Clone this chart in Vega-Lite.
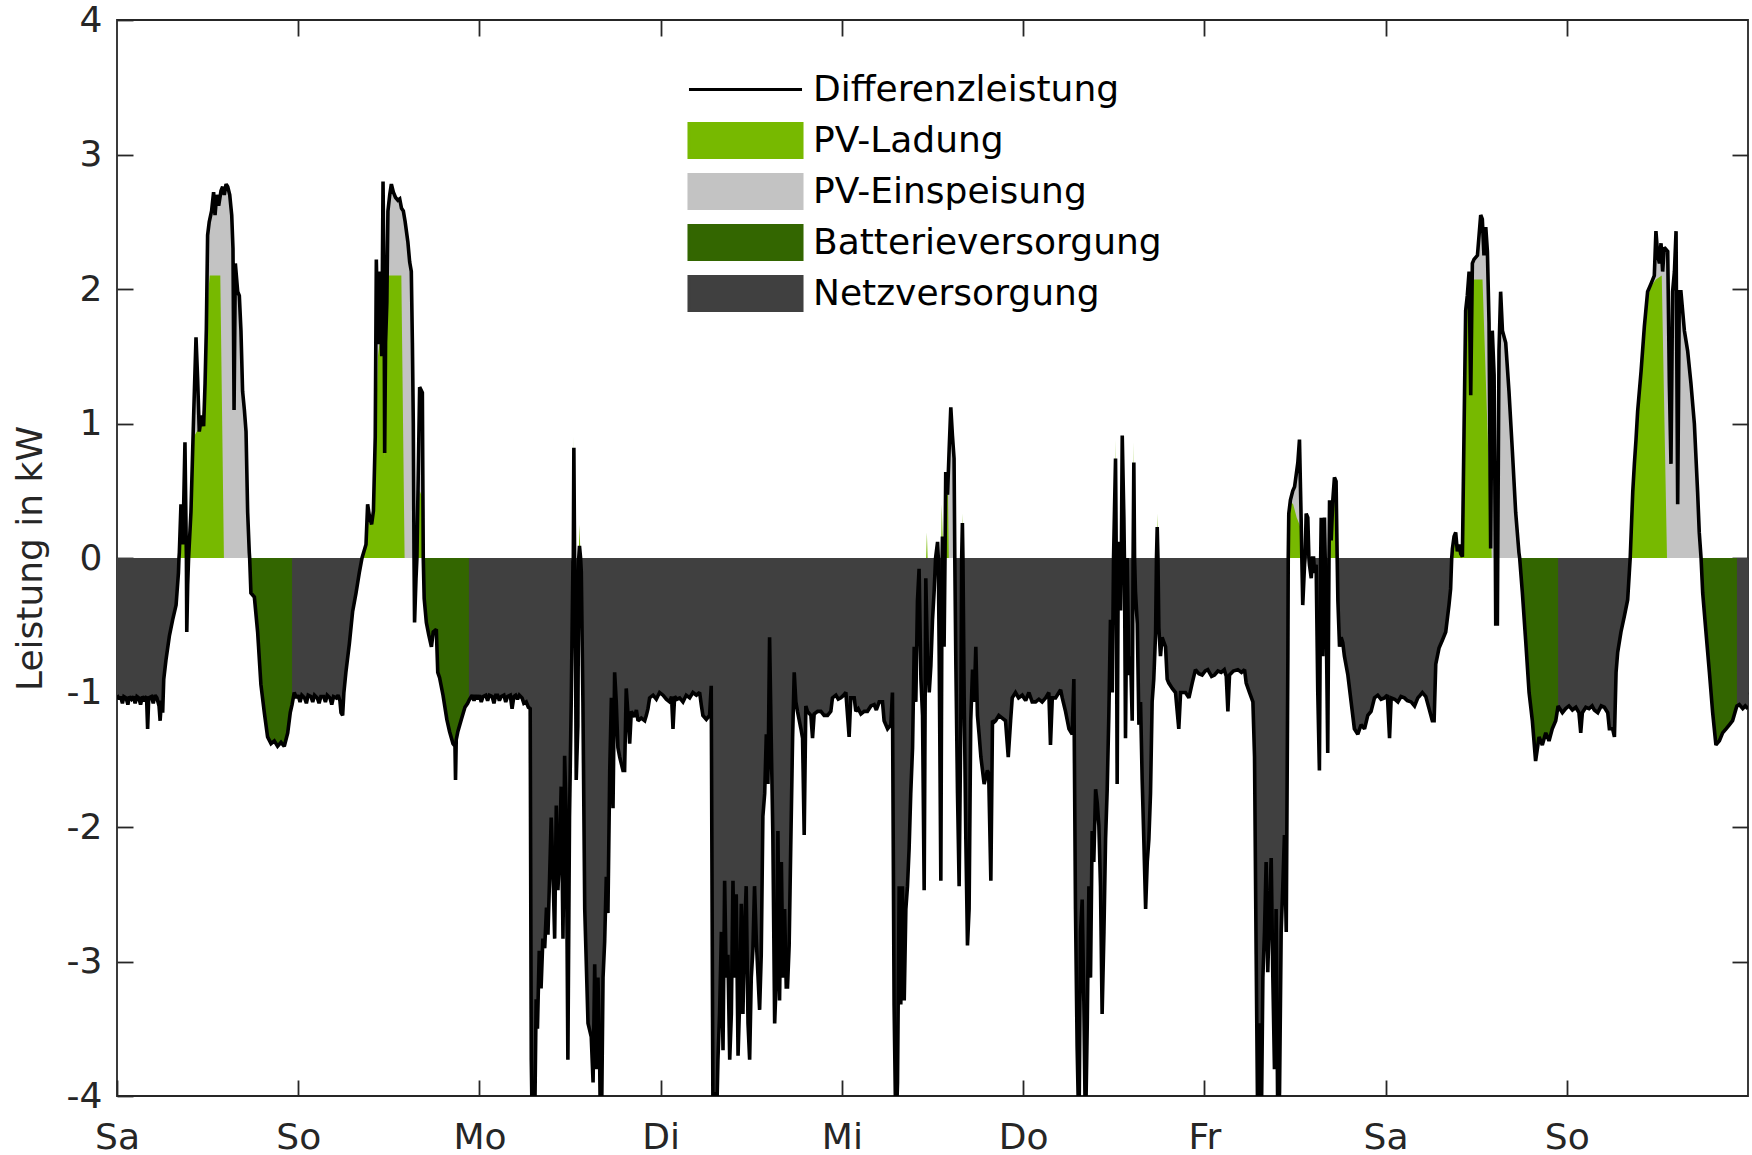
{
"$schema": "https://vega.github.io/schema/vega-lite/v6.json",
"width": 1631, "height": 1076,
"autosize": {"type": "none"},
"padding": {"left": 117, "top": 20, "right": 4, "bottom": 59},
"background": "white",
"config": {"font": "DejaVu Sans", "view": {"stroke": "#262626", "strokeWidth": 1.8}},
"datasets": {
"main": [
{"t":0,"d":-1.02},{"t":0.012,"d":-1.05},{"t":0.02,"d":-1.03},{"t":0.03,"d":-1.08},{"t":0.038,"d":-1.03},{"t":0.05,"d":-1.04},{"t":0.06,"d":-1.09},{"t":0.068,"d":-1.03},{"t":0.08,"d":-1.05},{"t":0.09,"d":-1.03},{"t":0.1,"d":-1.08},{"t":0.11,"d":-1.03},{"t":0.12,"d":-1.04},{"t":0.13,"d":-1.09},{"t":0.14,"d":-1.03},{"t":0.15,"d":-1.05},{"t":0.163,"d":-1.03},{"t":0.169,"d":-1.27},{"t":0.175,"d":-1.04},{"t":0.19,"d":-1.03},{"t":0.2,"d":-1.08},{"t":0.21,"d":-1.02},{"t":0.22,"d":-1.04},{"t":0.232,"d":-1.1},{"t":0.238,"d":-1.21},{"t":0.245,"d":-1.06},{"t":0.252,"d":-1.15},{"t":0.258,"d":-0.9},{"t":0.27,"d":-0.76},{"t":0.289,"d":-0.58},{"t":0.307,"d":-0.46},{"t":0.326,"d":-0.35},{"t":0.339,"d":-0.11},{"t":0.342,"d":0},{"t":0.344,"d":0.04},{"t":0.353,"d":0.4},{"t":0.362,"d":0.1},{"t":0.368,"d":0.4},{"t":0.375,"d":0.86},{"t":0.381,"d":0.2},{"t":0.383,"d":0},{"t":0.385,"d":-0.55},{"t":0.39,"d":-0.2},{"t":0.395,"d":0},{"t":0.408,"d":0.34},{"t":0.423,"d":1.06},{"t":0.436,"d":1.64},{"t":0.445,"d":1.33},{"t":0.454,"d":0.94},{"t":0.467,"d":1.06},{"t":0.478,"d":0.98},{"t":0.486,"d":1.3},{"t":0.493,"d":1.7},{"t":0.5,"d":2.4},{"t":0.509,"d":2.5},{"t":0.522,"d":2.58},{"t":0.533,"d":2.72},{"t":0.541,"d":2.55},{"t":0.55,"d":2.7},{"t":0.561,"d":2.62},{"t":0.574,"d":2.73},{"t":0.583,"d":2.76},{"t":0.592,"d":2.7},{"t":0.602,"d":2.78},{"t":0.611,"d":2.76},{"t":0.622,"d":2.7},{"t":0.633,"d":2.55},{"t":0.64,"d":2.3},{"t":0.646,"d":1.1},{"t":0.653,"d":2.19},{"t":0.666,"d":1.98},{"t":0.675,"d":1.95},{"t":0.684,"d":1.69},{"t":0.693,"d":1.24},{"t":0.703,"d":1.1},{"t":0.712,"d":0.94},{"t":0.721,"d":0.34},{"t":0.73,"d":0.04},
{"t":0.732,"d":0,"b":1},{"t":0.739,"d":-0.26,"b":1},{"t":0.758,"d":-0.29,"b":1},{"t":0.776,"d":-0.55,"b":1},{"t":0.794,"d":-0.94,"b":1},{"t":0.813,"d":-1.15,"b":1},{"t":0.831,"d":-1.33,"b":1},{"t":0.85,"d":-1.38,"b":1},{"t":0.868,"d":-1.36,"b":1},{"t":0.886,"d":-1.4,"b":1},{"t":0.905,"d":-1.37,"b":1},{"t":0.923,"d":-1.4,"b":1},{"t":0.942,"d":-1.3,"b":1},{"t":0.956,"d":-1.15,"b":1},{"t":0.966,"d":-1.09,"b":1},
{"t":0.978,"d":-1.0},{"t":0.99,"d":-1.04},{"t":1.0,"d":-1.02},{"t":1.01,"d":-1.07},{"t":1.02,"d":-1.02},{"t":1.035,"d":-1.04},{"t":1.045,"d":-1.08},{"t":1.055,"d":-1.02},{"t":1.07,"d":-1.03},{"t":1.08,"d":-1.07},{"t":1.09,"d":-1.02},{"t":1.105,"d":-1.04},{"t":1.115,"d":-1.08},{"t":1.125,"d":-1.03},{"t":1.14,"d":-1.03},{"t":1.15,"d":-1.07},{"t":1.16,"d":-1.02},{"t":1.175,"d":-1.04},{"t":1.185,"d":-1.09},{"t":1.195,"d":-1.03},{"t":1.21,"d":-1.04},{"t":1.22,"d":-1.02},{"t":1.23,"d":-1.06},{"t":1.236,"d":-1.15},{"t":1.245,"d":-1.17},{"t":1.252,"d":-1.0},{"t":1.263,"d":-0.85},{"t":1.282,"d":-0.64},{"t":1.3,"d":-0.4},{"t":1.319,"d":-0.26},{"t":1.337,"d":-0.11},{"t":1.352,"d":0},{"t":1.374,"d":0.1},{"t":1.383,"d":0.4},{"t":1.394,"d":0.3},{"t":1.405,"d":0.25},{"t":1.415,"d":0.35},{"t":1.425,"d":0.9},{"t":1.431,"d":2.22},{"t":1.44,"d":1.59},{"t":1.449,"d":2.13},{"t":1.461,"d":1.5},{"t":1.468,"d":2.8},{"t":1.474,"d":2.0},{"t":1.477,"d":0.78},{"t":1.482,"d":1.6},{"t":1.489,"d":1.9},{"t":1.495,"d":2.58},{"t":1.505,"d":2.7},{"t":1.514,"d":2.78},{"t":1.525,"d":2.72},{"t":1.537,"d":2.68},{"t":1.55,"d":2.66},{"t":1.56,"d":2.67},{"t":1.57,"d":2.6},{"t":1.58,"d":2.58},{"t":1.59,"d":2.5},{"t":1.605,"d":2.35},{"t":1.615,"d":2.2},{"t":1.624,"d":2.13},{"t":1.63,"d":1.6},{"t":1.635,"d":1.0},{"t":1.639,"d":0},{"t":1.642,"d":-0.48},{"t":1.65,"d":-0.15},{"t":1.655,"d":0},{"t":1.67,"d":1.27},{"t":1.685,"d":1.23},
{"t":1.69,"d":0,"b":2},{"t":1.695,"d":-0.3,"b":2},{"t":1.707,"d":-0.48,"b":2},{"t":1.72,"d":-0.57,"b":2},{"t":1.735,"d":-0.66,"b":2},{"t":1.745,"d":-0.55,"b":2},{"t":1.762,"d":-0.53,"b":2},{"t":1.77,"d":-0.85,"b":2},{"t":1.78,"d":-0.89,"b":2},{"t":1.799,"d":-1.02,"b":2},{"t":1.82,"d":-1.2,"b":2},{"t":1.835,"d":-1.29,"b":2},{"t":1.854,"d":-1.38,"b":2},{"t":1.865,"d":-1.4,"b":2},{"t":1.868,"d":-1.65,"b":2},{"t":1.872,"d":-1.35,"b":2},{"t":1.881,"d":-1.29,"b":2},{"t":1.9,"d":-1.2,"b":2},{"t":1.92,"d":-1.11,"b":2},{"t":1.935,"d":-1.08,"b":2},{"t":1.942,"d":-1.06,"b":2},
{"t":1.946,"d":-1.05},{"t":1.96,"d":-1.02},{"t":1.97,"d":-1.06},{"t":1.98,"d":-1.02},{"t":1.99,"d":-1.05},{"t":2.0,"d":-1.02},{"t":2.01,"d":-1.07},{"t":2.02,"d":-1.03},{"t":2.035,"d":-1.02},{"t":2.045,"d":-1.06},{"t":2.055,"d":-1.02},{"t":2.07,"d":-1.03},{"t":2.08,"d":-1.08},{"t":2.09,"d":-1.02},{"t":2.1,"d":-1.02},{"t":2.11,"d":-1.06},{"t":2.12,"d":-1.03},{"t":2.135,"d":-1.02},{"t":2.145,"d":-1.07},{"t":2.155,"d":-1.03},{"t":2.17,"d":-1.02},{"t":2.18,"d":-1.12},{"t":2.19,"d":-1.03},{"t":2.2,"d":-1.02},{"t":2.21,"d":-1.05},{"t":2.22,"d":-1.02},{"t":2.235,"d":-1.04},{"t":2.245,"d":-1.08},{"t":2.258,"d":-1.07},{"t":2.27,"d":-1.11},{"t":2.28,"d":-1.12},{"t":2.286,"d":-3.73},{"t":2.292,"d":-4.3},{"t":2.304,"d":-4.3},{"t":2.313,"d":-3.28},{"t":2.32,"d":-3.5},{"t":2.33,"d":-2.92},{"t":2.34,"d":-3.2},{"t":2.35,"d":-2.83},{"t":2.36,"d":-2.9},{"t":2.37,"d":-2.6},{"t":2.378,"d":-2.8},{"t":2.387,"d":-2.38},{"t":2.396,"d":-1.93},{"t":2.405,"d":-2.29},{"t":2.415,"d":-2.83},{"t":2.424,"d":-1.84},{"t":2.433,"d":-2.47},{"t":2.442,"d":-2.2},{"t":2.451,"d":-1.7},{"t":2.461,"d":-2.83},{"t":2.47,"d":-1.47},{"t":2.479,"d":-1.93},{"t":2.488,"d":-3.73},{"t":2.497,"d":-1.93},{"t":2.507,"d":-1.02},{"t":2.516,"d":-0.03},{"t":2.518,"d":0},{"t":2.521,"d":0.82},{"t":2.525,"d":0},{"t":2.528,"d":-0.1},{"t":2.534,"d":-1.65},{"t":2.543,"d":-1.25},{"t":2.548,"d":0},{"t":2.552,"d":0.09},{"t":2.558,"d":0},{"t":2.562,"d":-0.1},{"t":2.571,"d":-1.07},{"t":2.581,"d":-2.61},{"t":2.599,"d":-3.46},{"t":2.617,"d":-3.56},{"t":2.627,"d":-3.9},{"t":2.636,"d":-3.02},{"t":2.645,"d":-3.8},{"t":2.654,"d":-3.12},{"t":2.663,"d":-3.7},{"t":2.668,"d":-4.3},{"t":2.673,"d":-4.3},{"t":2.682,"d":-3.12},{"t":2.691,"d":-2.85},{"t":2.7,"d":-2.37},{"t":2.709,"d":-2.64},{"t":2.719,"d":-1.58},{"t":2.728,"d":-1.04},{"t":2.737,"d":-1.86},{"t":2.746,"d":-0.85},{"t":2.755,"d":-1.07},{"t":2.764,"d":-1.41},{"t":2.774,"d":-1.48},{"t":2.792,"d":-1.58},{"t":2.801,"d":-1.58},{"t":2.81,"d":-0.97},{"t":2.82,"d":-1.17},{"t":2.829,"d":-1.38},{"t":2.838,"d":-1.14},{"t":2.856,"d":-1.18},{"t":2.866,"d":-1.13},{"t":2.875,"d":-1.21},{"t":2.893,"d":-1.19},{"t":2.912,"d":-1.21},{"t":2.921,"d":-1.17},{"t":2.93,"d":-1.12},{"t":2.939,"d":-1.04},{"t":2.958,"d":-1.02},{"t":2.976,"d":-1.05},{"t":2.994,"d":-1.0},{"t":3.013,"d":-1.02},{"t":3.031,"d":-1.05},{"t":3.05,"d":-1.07},{"t":3.06,"d":-1.03},{"t":3.068,"d":-1.27},{"t":3.077,"d":-1.03},{"t":3.09,"d":-1.05},{"t":3.105,"d":-1.04},{"t":3.123,"d":-1.07},{"t":3.141,"d":-1.02},{"t":3.16,"d":-1.04},{"t":3.178,"d":-1.0},{"t":3.197,"d":-1.02},{"t":3.215,"d":-1.0},{"t":3.225,"d":-1.1},{"t":3.233,"d":-1.17},{"t":3.252,"d":-1.2},{"t":3.27,"d":-1.17},{"t":3.279,"d":-0.95},{"t":3.289,"d":-4.3},{"t":3.298,"d":-3.97},{"t":3.307,"d":-4.3},{"t":3.316,"d":-3.73},{"t":3.325,"d":-3.39},{"t":3.335,"d":-2.78},{"t":3.344,"d":-3.66},{"t":3.353,"d":-2.4},{"t":3.362,"d":-3.12},{"t":3.371,"d":-2.95},{"t":3.381,"d":-3.73},{"t":3.39,"d":-3.39},{"t":3.399,"d":-2.4},{"t":3.408,"d":-3.12},{"t":3.417,"d":-2.5},{"t":3.427,"d":-3.7},{"t":3.436,"d":-3.29},{"t":3.445,"d":-2.57},{"t":3.454,"d":-3.39},{"t":3.463,"d":-2.78},{"t":3.472,"d":-2.44},{"t":3.482,"d":-3.46},{"t":3.491,"d":-3.73},{"t":3.5,"d":-3.12},{"t":3.509,"d":-2.91},{"t":3.518,"d":-2.44},{"t":3.528,"d":-2.85},{"t":3.546,"d":-3.36},{"t":3.555,"d":-2.95},{"t":3.564,"d":-1.92},{"t":3.574,"d":-1.75},{"t":3.583,"d":-1.31},{"t":3.592,"d":-1.68},{"t":3.601,"d":-0.59},{"t":3.61,"d":-1.34},{"t":3.619,"d":-2.06},{"t":3.629,"d":-3.46},{"t":3.638,"d":-3.12},{"t":3.647,"d":-2.03},{"t":3.656,"d":-3.29},{"t":3.666,"d":-2.26},{"t":3.675,"d":-3.12},{"t":3.684,"d":-2.61},{"t":3.693,"d":-3.19},{"t":3.7,"d":-3.19},{"t":3.709,"d":-2.88},{"t":3.718,"d":-2.13},{"t":3.728,"d":-1.34},{"t":3.737,"d":-0.85},{"t":3.746,"d":-1.07},{"t":3.755,"d":-1.14},{"t":3.774,"d":-1.27},{"t":3.783,"d":-1.34},{"t":3.792,"d":-2.06},{"t":3.801,"d":-1.1},{"t":3.81,"d":-1.14},{"t":3.829,"d":-1.17},{"t":3.838,"d":-1.34},{"t":3.847,"d":-1.16},{"t":3.866,"d":-1.14},{"t":3.884,"d":-1.14},{"t":3.902,"d":-1.17},{"t":3.921,"d":-1.17},{"t":3.939,"d":-1.14},{"t":3.948,"d":-1.04},{"t":3.967,"d":-1.02},{"t":3.98,"d":-1.05},{"t":3.994,"d":-1.04},{"t":4.01,"d":-1.02},{"t":4.022,"d":-1.0},{"t":4.04,"d":-1.33},{"t":4.049,"d":-1.04},{"t":4.068,"d":-1.04},{"t":4.077,"d":-1.14},{"t":4.09,"d":-1.12},{"t":4.105,"d":-1.16},{"t":4.123,"d":-1.14},{"t":4.141,"d":-1.14},{"t":4.16,"d":-1.1},{"t":4.178,"d":-1.09},{"t":4.19,"d":-1.13},{"t":4.206,"d":-1.07},{"t":4.224,"d":-1.07},{"t":4.233,"d":-1.21},{"t":4.252,"d":-1.27},{"t":4.27,"d":-1.24},{"t":4.279,"d":-1.0},{"t":4.288,"d":-3.32},{"t":4.298,"d":-4.3},{"t":4.307,"d":-3.9},{"t":4.316,"d":-2.44},{"t":4.325,"d":-3.32},{"t":4.334,"d":-2.44},{"t":4.344,"d":-3.29},{"t":4.353,"d":-2.61},{"t":4.362,"d":-2.44},{"t":4.371,"d":-2.16},{"t":4.38,"d":-1.75},{"t":4.39,"d":-1.41},{"t":4.399,"d":-0.66},{"t":4.408,"d":-1.07},{"t":4.417,"d":-0.32},{"t":4.426,"d":-0.08},{"t":4.436,"d":-0.9},{"t":4.445,"d":-1.17},{"t":4.454,"d":-2.47},{"t":4.463,"d":-0.15},{"t":4.472,"d":-0.73},{"t":4.482,"d":-1.0},{"t":4.491,"d":-0.8},{"t":4.5,"d":-0.46},{"t":4.509,"d":-0.25},{"t":4.517,"d":0},{"t":4.528,"d":0.12},{"t":4.532,"d":0},{"t":4.537,"d":-0.73},{"t":4.546,"d":-2.4},{"t":4.553,"d":0},{"t":4.555,"d":0.16},{"t":4.56,"d":0},{"t":4.564,"d":-0.66},{"t":4.569,"d":0},{"t":4.573,"d":0.64},{"t":4.583,"d":0.47},{"t":4.592,"d":0.81},{"t":4.601,"d":1.12},{"t":4.61,"d":0.91},{"t":4.619,"d":0.74},{"t":4.623,"d":0},{"t":4.629,"d":-0.8},{"t":4.638,"d":-1.75},{"t":4.647,"d":-2.44},{"t":4.656,"d":-1.24},{"t":4.661,"d":0},{"t":4.665,"d":0.26},{"t":4.668,"d":0},{"t":4.675,"d":-1.07},{"t":4.684,"d":-2.09},{"t":4.693,"d":-2.88},{"t":4.702,"d":-2.61},{"t":4.711,"d":-1.21},{"t":4.721,"d":-0.83},{"t":4.73,"d":-1.07},{"t":4.739,"d":-0.66},{"t":4.748,"d":-1.17},{"t":4.757,"d":-1.31},{"t":4.767,"d":-1.48},{"t":4.785,"d":-1.68},{"t":4.803,"d":-1.58},{"t":4.81,"d":-1.6},{"t":4.822,"d":-2.4},{"t":4.831,"d":-1.21},{"t":4.84,"d":-1.22},{"t":4.848,"d":-1.21},{"t":4.866,"d":-1.17},{"t":4.885,"d":-1.19},{"t":4.903,"d":-1.21},{"t":4.918,"d":-1.48},{"t":4.931,"d":-1.21},{"t":4.94,"d":-1.04},{"t":4.958,"d":-1.0},{"t":4.975,"d":-1.04},{"t":4.995,"d":-1.02},{"t":5.014,"d":-1.06},{"t":5.032,"d":-1.0},{"t":5.05,"d":-1.07},{"t":5.069,"d":-1.07},{"t":5.087,"d":-1.05},{"t":5.105,"d":-1.07},{"t":5.124,"d":-1.04},{"t":5.142,"d":-1.0},{"t":5.151,"d":-1.39},{"t":5.161,"d":-1.04},{"t":5.179,"d":-1.04},{"t":5.207,"d":-0.98},{"t":5.216,"d":-1.04},{"t":5.234,"d":-1.14},{"t":5.253,"d":-1.27},{"t":5.271,"d":-1.31},{"t":5.28,"d":-0.9},{"t":5.289,"d":-2.61},{"t":5.298,"d":-3.63},{"t":5.308,"d":-4.3},{"t":5.317,"d":-2.78},{"t":5.326,"d":-2.54},{"t":5.335,"d":-3.29},{"t":5.344,"d":-4.3},{"t":5.354,"d":-3.46},{"t":5.363,"d":-2.44},{"t":5.372,"d":-3.12},{"t":5.381,"d":-2.03},{"t":5.39,"d":-2.26},{"t":5.4,"d":-1.72},{"t":5.409,"d":-1.82},{"t":5.418,"d":-1.99},{"t":5.427,"d":-2.44},{"t":5.436,"d":-3.39},{"t":5.446,"d":-2.78},{"t":5.455,"d":-2.09},{"t":5.464,"d":-1.72},{"t":5.473,"d":-1.17},{"t":5.482,"d":-0.46},{"t":5.492,"d":-1.0},{"t":5.499,"d":0},{"t":5.51,"d":0.74},{"t":5.514,"d":0},{"t":5.519,"d":-1.68},{"t":5.525,"d":0},{"t":5.528,"d":0.12},{"t":5.533,"d":0},{"t":5.538,"d":-0.39},{"t":5.542,"d":0},{"t":5.547,"d":0.91},{"t":5.556,"d":0.3},{"t":5.559,"d":0},{"t":5.565,"d":-1.34},{"t":5.574,"d":0},{"t":5.584,"d":-0.87},{"t":5.593,"d":-0.73},{"t":5.602,"d":-1.21},{"t":5.607,"d":0},{"t":5.611,"d":0.71},{"t":5.615,"d":0},{"t":5.62,"d":-0.25},{"t":5.63,"d":-0.49},{"t":5.639,"d":-1.24},{"t":5.648,"d":-1.07},{"t":5.657,"d":-1.65},{"t":5.666,"d":-2.09},{"t":5.676,"d":-2.61},{"t":5.685,"d":-2.26},{"t":5.694,"d":-2.09},{"t":5.703,"d":-1.75},{"t":5.712,"d":-1.07},{"t":5.721,"d":-0.9},{"t":5.731,"d":-0.56},{"t":5.736,"d":0},{"t":5.74,"d":0.23},{"t":5.744,"d":0},{"t":5.749,"d":-0.52},{"t":5.758,"d":-0.73},{"t":5.767,"d":-0.59},{"t":5.786,"d":-0.66},{"t":5.795,"d":-0.9},{"t":5.804,"d":-0.93},{"t":5.823,"d":-0.97},{"t":5.841,"d":-1.0},{"t":5.859,"d":-1.27},{"t":5.869,"d":-1.0},{"t":5.896,"d":-1.0},{"t":5.915,"d":-1.04},{"t":5.933,"d":-0.93},{"t":5.951,"d":-0.83},{"t":5.97,"d":-0.86},{"t":5.988,"d":-0.87},{"t":6.005,"d":-0.84},{"t":6.019,"d":-0.83},{"t":6.04,"d":-0.88},{"t":6.056,"d":-0.87},{"t":6.075,"d":-0.84},{"t":6.093,"d":-0.85},{"t":6.11,"d":-0.83},{"t":6.121,"d":-0.88},{"t":6.13,"d":-1.14},{"t":6.139,"d":-0.87},{"t":6.16,"d":-0.84},{"t":6.185,"d":-0.83},{"t":6.205,"d":-0.85},{"t":6.222,"d":-0.83},{"t":6.231,"d":-0.93},{"t":6.249,"d":-1.0},{"t":6.268,"d":-1.07},{"t":6.277,"d":-1.48},{"t":6.286,"d":-2.95},{"t":6.295,"d":-4.3},{"t":6.304,"d":-3.46},{"t":6.314,"d":-4.3},{"t":6.323,"d":-3.12},{"t":6.332,"d":-2.78},{"t":6.341,"d":-2.26},{"t":6.35,"d":-3.08},{"t":6.36,"d":-2.61},{"t":6.369,"d":-2.23},{"t":6.378,"d":-3.12},{"t":6.387,"d":-3.8},{"t":6.396,"d":-2.61},{"t":6.406,"d":-4.3},{"t":6.415,"d":-3.97},{"t":6.424,"d":-2.78},{"t":6.433,"d":-2.44},{"t":6.442,"d":-2.06},{"t":6.452,"d":-2.78},{"t":6.461,"d":-0.73},{"t":6.463,"d":0},{"t":6.466,"d":0.33},{"t":6.475,"d":0.43},{"t":6.488,"d":0.5},{"t":6.498,"d":0.53},{"t":6.516,"d":0.71},{"t":6.525,"d":0.88},{"t":6.534,"d":0.3},{"t":6.538,"d":0},{"t":6.543,"d":-0.35},{"t":6.553,"d":-0.05},{"t":6.556,"d":0},{"t":6.562,"d":0.33},{"t":6.571,"d":0.3},{"t":6.577,"d":0},{"t":6.58,"d":-0.05},{"t":6.59,"d":-0.15},{"t":6.597,"d":0},{"t":6.603,"d":0},{"t":6.608,"d":-0.11},{"t":6.617,"d":-0.05},{"t":6.626,"d":-1.0},{"t":6.635,"d":-1.58},{"t":6.642,"d":0},{"t":6.645,"d":0.3},{"t":6.65,"d":0},{"t":6.654,"d":-0.73},{"t":6.659,"d":0},{"t":6.663,"d":0.3},{"t":6.667,"d":0},{"t":6.672,"d":-0.39},{"t":6.681,"d":-1.45},{"t":6.688,"d":0},{"t":6.691,"d":0.43},{"t":6.7,"d":0.13},{"t":6.709,"d":0.43},{"t":6.718,"d":0.6},{"t":6.727,"d":0.57},{"t":6.733,"d":0},{"t":6.737,"d":-0.32},{"t":6.746,"d":-0.66},{"t":6.755,"d":-0.59},{"t":6.764,"d":-0.63},{"t":6.773,"d":-0.73},{"t":6.792,"d":-0.87},{"t":6.81,"d":-1.07},{"t":6.828,"d":-1.27},{"t":6.847,"d":-1.31},{"t":6.865,"d":-1.24},{"t":6.884,"d":-1.27},{"t":6.902,"d":-1.17},{"t":6.92,"d":-1.14},{"t":6.939,"d":-1.04},{"t":6.957,"d":-1.02},{"t":6.975,"d":-1.05},{"t":6.994,"d":-1.04},{"t":7.01,"d":-1.02},{"t":7.022,"d":-1.34},{"t":7.031,"d":-1.04},{"t":7.05,"d":-1.05},{"t":7.068,"d":-1.07},{"t":7.085,"d":-1.03},{"t":7.104,"d":-1.04},{"t":7.12,"d":-1.06},{"t":7.141,"d":-1.07},{"t":7.16,"d":-1.1},{"t":7.178,"d":-1.04},{"t":7.185,"d":-1.03},{"t":7.203,"d":-1.0},{"t":7.222,"d":-1.03},{"t":7.24,"d":-1.12},{"t":7.258,"d":-1.21},{"t":7.268,"d":-1.21},{"t":7.277,"d":-0.79},{"t":7.295,"d":-0.67},{"t":7.314,"d":-0.61},{"t":7.332,"d":-0.55},{"t":7.35,"d":-0.35},{"t":7.359,"d":-0.23},{"t":7.365,"d":0},{"t":7.369,"d":0.07},{"t":7.378,"d":0.16},{"t":7.387,"d":0.19},{"t":7.396,"d":0.05},{"t":7.405,"d":0.1},{"t":7.415,"d":0.03},{"t":7.424,"d":0.01},{"t":7.433,"d":0.94},{"t":7.442,"d":1.84},{"t":7.451,"d":1.95},{"t":7.461,"d":2.13},{"t":7.47,"d":1.21},{"t":7.479,"d":2.19},{"t":7.488,"d":2.22},{"t":7.507,"d":2.25},{"t":7.525,"d":2.55},{"t":7.534,"d":2.52},{"t":7.543,"d":2.25},{"t":7.553,"d":2.46},{"t":7.562,"d":2.28},{"t":7.571,"d":1.75},{"t":7.58,"d":0.07},{"t":7.589,"d":1.69},{"t":7.599,"d":1.36},{"t":7.606,"d":0},{"t":7.608,"d":-0.49},{"t":7.617,"d":-0.49},{"t":7.619,"d":0},{"t":7.626,"d":1.54},{"t":7.635,"d":1.98},{"t":7.645,"d":1.69},{"t":7.663,"d":1.6},{"t":7.681,"d":1.24},{"t":7.7,"d":0.79},{"t":7.718,"d":0.34},{"t":7.736,"d":0.04},
{"t":7.74,"d":0,"b":3},{"t":7.755,"d":-0.26,"b":3},{"t":7.773,"d":-0.61,"b":3},{"t":7.792,"d":-1.0,"b":3},{"t":7.81,"d":-1.21,"b":3},{"t":7.828,"d":-1.51,"b":3},{"t":7.847,"d":-1.33,"b":3},{"t":7.865,"d":-1.39,"b":3},{"t":7.884,"d":-1.3,"b":3},{"t":7.902,"d":-1.36,"b":3},{"t":7.92,"d":-1.27,"b":3},{"t":7.939,"d":-1.21,"b":3},{"t":7.952,"d":-1.1,"b":3},
{"t":7.976,"d":-1.15},{"t":7.994,"d":-1.12},{"t":8.012,"d":-1.1},{"t":8.031,"d":-1.13},{"t":8.05,"d":-1.11},{"t":8.067,"d":-1.15},{"t":8.077,"d":-1.3},{"t":8.086,"d":-1.15},{"t":8.105,"d":-1.11},{"t":8.123,"d":-1.12},{"t":8.14,"d":-1.1},{"t":8.152,"d":-1.13},{"t":8.171,"d":-1.15},{"t":8.19,"d":-1.1},{"t":8.207,"d":-1.11},{"t":8.226,"d":-1.15},{"t":8.235,"d":-1.27},{"t":8.253,"d":-1.27},{"t":8.263,"d":-1.33},{"t":8.272,"d":-0.85},{"t":8.281,"d":-0.7},{"t":8.299,"d":-0.55},{"t":8.318,"d":-0.43},{"t":8.336,"d":-0.31},{"t":8.345,"d":-0.11},{"t":8.35,"d":0},{"t":8.364,"d":0.49},{"t":8.373,"d":0.7},{"t":8.382,"d":0.88},{"t":8.391,"d":1.09},{"t":8.41,"d":1.39},{"t":8.428,"d":1.72},{"t":8.446,"d":1.98},{"t":8.465,"d":2.04},{"t":8.483,"d":2.1},{"t":8.492,"d":2.43},{"t":8.502,"d":2.25},{"t":8.511,"d":2.19},{"t":8.52,"d":2.34},{"t":8.529,"d":2.13},{"t":8.538,"d":2.31},{"t":8.557,"d":2.28},{"t":8.566,"d":1.3},{"t":8.575,"d":0.7},{"t":8.584,"d":1.98},{"t":8.594,"d":2.13},{"t":8.603,"d":2.43},{"t":8.612,"d":0.4},{"t":8.621,"d":1.98},{"t":8.63,"d":1.98},{"t":8.649,"d":1.69},{"t":8.667,"d":1.54},{"t":8.685,"d":1.3},{"t":8.704,"d":1.0},{"t":8.722,"d":0.49},{"t":8.731,"d":0.19},
{"t":8.741,"d":0,"b":4},{"t":8.75,"d":-0.26,"b":4},{"t":8.768,"d":-0.55,"b":4},{"t":8.787,"d":-0.85,"b":4},{"t":8.805,"d":-1.15,"b":4},{"t":8.823,"d":-1.39,"b":4},{"t":8.842,"d":-1.36,"b":4},{"t":8.86,"d":-1.3,"b":4},{"t":8.879,"d":-1.27,"b":4},{"t":8.897,"d":-1.24,"b":4},{"t":8.915,"d":-1.21,"b":4},{"t":8.934,"d":-1.12,"b":4},{"t":8.939,"d":-1.1,"b":4},
{"t":8.952,"d":-1.09},{"t":8.971,"d":-1.12},{"t":8.985,"d":-1.1},{"t":9.0,"d":-1.12}
],
"lad": [
{"t":0.342,"g":0},{"t":0.353,"g":0.38},{"t":0.362,"g":0.1},{"t":0.368,"g":0.38},{"t":0.375,"g":0.5},{"t":0.381,"g":0.15},{"t":0.383,"g":0},{"t":0.395,"g":0},{"t":0.408,"g":0.3},{"t":0.423,"g":0.9},{"t":0.445,"g":0.95},{"t":0.467,"g":1.0},{"t":0.486,"g":1.25},{"t":0.497,"g":1.75},{"t":0.505,"g":2.0},{"t":0.512,"g":2.1},{"t":0.57,"g":2.1},{"t":0.59,"g":0},
{"t":1.352,"g":0},{"t":1.374,"g":0.08},{"t":1.383,"g":0.35},{"t":1.394,"g":0.25},{"t":1.415,"g":0.3},{"t":1.425,"g":0.8},{"t":1.44,"g":1.5},{"t":1.449,"g":1.6},{"t":1.468,"g":1.7},{"t":1.477,"g":0.75},{"t":1.482,"g":1.5},{"t":1.492,"g":2.1},{"t":1.569,"g":2.1},{"t":1.587,"g":0},{"t":1.655,"g":0},{"t":1.67,"g":0.5},{"t":1.685,"g":0.45},{"t":1.69,"g":0},
{"t":2.518,"g":0},{"t":2.521,"g":0.9},{"t":2.525,"g":0},{"t":2.548,"g":0},{"t":2.552,"g":0.25},{"t":2.558,"g":0},
{"t":4.465,"g":0},{"t":4.469,"g":0.19},{"t":4.473,"g":0},{"t":4.547,"g":0},{"t":4.551,"g":0.4},{"t":4.555,"g":0.2},{"t":4.56,"g":0},{"t":4.573,"g":0},{"t":4.583,"g":0.77},{"t":4.59,"g":0},{"t":4.662,"g":0},{"t":4.666,"g":0.33},{"t":4.67,"g":0},
{"t":5.505,"g":0},{"t":5.51,"g":0.88},{"t":5.514,"g":0},{"t":5.607,"g":0},{"t":5.611,"g":0.86},{"t":5.615,"g":0},{"t":5.738,"g":0},{"t":5.742,"g":0.33},{"t":5.746,"g":0},
{"t":6.463,"g":0},{"t":6.466,"g":0.3},{"t":6.475,"g":0.42},{"t":6.49,"g":0.4},{"t":6.51,"g":0.3},{"t":6.525,"g":0.25},{"t":6.534,"g":0.2},{"t":6.538,"g":0},{"t":6.688,"g":0},{"t":6.691,"g":0.43},{"t":6.7,"g":0.13},{"t":6.709,"g":0.4},{"t":6.718,"g":0.45},{"t":6.727,"g":0.2},{"t":6.733,"g":0},
{"t":7.365,"g":0},{"t":7.38,"g":0.12},{"t":7.39,"g":0.15},{"t":7.424,"g":0.01},{"t":7.433,"g":0.9},{"t":7.442,"g":1.75},{"t":7.455,"g":1.95},{"t":7.47,"g":2.07},{"t":7.535,"g":2.07},{"t":7.586,"g":0},
{"t":8.35,"g":0},{"t":8.364,"g":0.45},{"t":8.373,"g":0.65},{"t":8.391,"g":1.05},{"t":8.41,"g":1.35},{"t":8.428,"g":1.68},{"t":8.446,"g":1.94},{"t":8.465,"g":2.02},{"t":8.492,"g":2.07},{"t":8.524,"g":2.1},{"t":8.553,"g":0}
]
},
"layer": [
{
"data": {"name": "main"},
"mark": {"type": "area", "clip": true},
"encoding": {
"x": {"field": "t", "type": "quantitative", "scale": {"domain": [0, 9], "nice": false, "zero": false}, "axis": null},
"y": {"field": "d", "type": "quantitative", "stack": null, "scale": {"domain": [-4, 4], "nice": false}, "axis": null},
"y2": {"datum": 0},
"color": {"datum": "Netzversorgung",
"scale": {"domain": ["Differenzleistung", "PV-Ladung", "PV-Einspeisung", "Batterieversorgung", "Netzversorgung"], "range": ["#000000", "#77b900", "#c3c3c3", "#336600", "#404040"]},
"legend": {"title": null, "orient": "none", "legendX": 609, "legendY": 50, "padding": 0, "symbolSize": 1296, "symbolStrokeWidth": 3, "labelFontSize": 36, "labelFont": "DejaVu Sans", "labelColor": "#000000", "labelOffset": 48, "rowPadding": 4, "labelLimit": 0,
"encode": {"symbols": {"update": {
"shape": {"signal": "datum.value === 'Differenzleistung' ? 'M-3.14,-0.95M-3.14,0H3.14M3.14,0.95' : 'M-3.14,-0.95H3.14V0.95H-3.14Z'"},
"fill": {"signal": "datum.value === 'Differenzleistung' ? 'transparent' : scale('color', datum.value)"},
"stroke": {"signal": "datum.value === 'Differenzleistung' ? '#000000' : 'transparent'"},
"strokeWidth": {"value": 3}, "opacity": {"value": 1}, "size": {"value": 1296}}}}}
}
}
},
{
"data": {"name": "main"},
"transform": [{"filter": "datum.d >= 0"}],
"mark": {"type": "area", "clip": true},
"encoding": {
"x": {"field": "t", "type": "quantitative", "axis": null},
"y": {"field": "d", "type": "quantitative", "stack": null, "axis": null},
"y2": {"datum": 0},
"color": {"datum": "PV-Einspeisung"}
}
},
{
"data": {"name": "main"},
"transform": [{"filter": "datum.b > 0"}],
"mark": {"type": "area", "clip": true},
"encoding": {
"x": {"field": "t", "type": "quantitative", "axis": null},
"y": {"field": "d", "type": "quantitative", "stack": null, "axis": null},
"y2": {"datum": 0},
"detail": {"field": "b", "type": "nominal"},
"color": {"datum": "Batterieversorgung"}
}
},
{
"data": {"name": "lad"},
"mark": {"type": "area", "clip": true},
"encoding": {
"x": {"field": "t", "type": "quantitative", "axis": null},
"y": {"field": "g", "type": "quantitative", "stack": null, "axis": null},
"y2": {"datum": 0},
"color": {"datum": "PV-Ladung"}
}
},
{
"mark": {"type": "rule", "color": "#4d4d4d", "strokeWidth": 1},
"encoding": {"y": {"datum": 0, "type": "quantitative", "axis": null}}
},
{
"data": {"name": "main"},
"mark": {"type": "line", "clip": true, "strokeWidth": 3.6, "strokeJoin": "miter", "strokeMiterLimit": 2},
"encoding": {
"x": {"field": "t", "type": "quantitative",
"axis": {"orient": "bottom", "values": [0,1,2,3,4,5,6,7,8], "labelExpr": "['Sa','So','Mo','Di','Mi','Do','Fr','Sa','So'][datum.value]", "title": null, "domain": false, "grid": false, "offset": -16, "tickSize": 16, "tickColor": "#262626", "tickWidth": 1.8, "labelPadding": 24, "labelFontSize": 36, "labelFont": "DejaVu Sans", "labelColor": "#262626", "labelFlush": false, "labelOverlap": false, "labelBound": false}},
"y": {"field": "d", "type": "quantitative",
"axis": {"orient": "left", "values": [-4,-3,-2,-1,0,1,2,3,4], "labelExpr": "'' + datum.value", "title": "Leistung in kW", "titleFontSize": 36, "titleFont": "DejaVu Sans", "titleFontWeight": "normal", "titleColor": "#262626", "titlePadding": 17, "domain": false, "grid": false, "offset": -16, "tickSize": 16, "tickColor": "#262626", "tickWidth": 1.8, "labelPadding": 15, "labelFontSize": 36, "labelFont": "DejaVu Sans", "labelColor": "#262626", "labelFlush": false, "labelOverlap": false, "labelBound": false}},
"color": {"datum": "Differenzleistung"}
}
},
{
"data": {"name": "lad"},
"mark": {"type": "point", "opacity": 0},
"encoding": {
"x": {"field": "t", "type": "quantitative",
"axis": {"orient": "top", "values": [1,2,3,4,5,6,7,8], "labels": false, "title": null, "domain": false, "grid": false, "offset": -16, "tickSize": 16, "tickColor": "#262626", "tickWidth": 1.8}},
"y": {"field": "g", "type": "quantitative",
"axis": {"orient": "right", "values": [-3,-2,-1,0,1,2,3], "labels": false, "title": null, "domain": false, "grid": false, "offset": -16, "tickSize": 16, "tickColor": "#262626", "tickWidth": 1.8}}
}
}
],
"resolve": {"axis": {"x": "independent", "y": "independent"}}
}
